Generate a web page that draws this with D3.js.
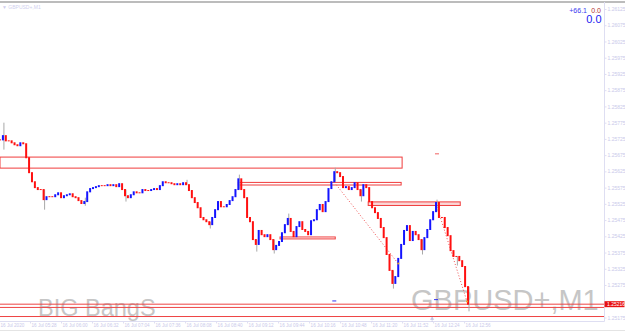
<!DOCTYPE html>
<html><head><meta charset="utf-8">
<script src="https://cdn.jsdelivr.net/npm/d3@7"></script>
<style>
html,body{margin:0;padding:0;background:#fff;}
svg{display:block;font-family:"Liberation Sans",Arial,sans-serif;}
</style></head>
<body><svg id="c" width="625" height="332"></svg>
<script>
// ---------------- data ----------------
const symbol = "GBPUSD+,M1";
const watermark = "BIG BangS";
const startTime = "2020-07-16 04:57";
const barStepMinutes = 3;
const closes = [
1.25722,1.25735,1.25719,1.25719,1.25713,1.25707,1.25704,1.25713,1.25710,1.25667,
1.25621,1.25593,1.25575,1.25569,1.25569,1.25538,1.25547,1.25547,1.25547,1.25553,
1.25559,1.25544,1.25550,1.25553,1.25556,1.25547,1.25544,1.25535,1.25526,1.25532,
1.25562,1.25572,1.25575,1.25578,1.25581,1.25581,1.25581,1.25584,1.25581,1.25584,
1.25578,1.25587,1.25569,1.25550,1.25544,1.25553,1.25562,1.25559,1.25559,1.25569,
1.25566,1.25566,1.25569,1.25572,1.25569,1.25581,1.25593,1.25590,1.25590,1.25587,
1.25584,1.25587,1.25584,1.25590,1.25584,1.25566,1.25544,1.25529,1.25513,1.25483,
1.25476,1.25470,1.25461,1.25483,1.25507,1.25532,1.25516,1.25516,1.25523,1.25535,
1.25547,1.25569,1.25602,1.25569,1.25544,1.25483,1.25470,1.25415,1.25400,1.25443,
1.25430,1.25424,1.25430,1.25415,1.25384,1.25397,1.25409,1.25436,1.25461,1.25480,
1.25440,1.25424,1.25455,1.25470,1.25446,1.25440,1.25430,1.25473,1.25476,1.25507,
1.25523,1.25501,1.25532,1.25572,1.25593,1.25624,1.25621,1.25609,1.25575,1.25578,
1.25569,1.25575,1.25590,1.25569,1.25550,1.25584,1.25575,1.25532,1.25513,1.25498,
1.25480,1.25452,1.25421,1.25369,1.25320,1.25280,1.25301,1.25357,1.25400,1.25443,
1.25458,1.25412,1.25440,1.25430,1.25415,1.25384,1.25421,1.25446,1.25476,1.25501,
1.25529,1.25483,1.25483,1.25452,1.25427,1.25381,1.25363,1.25363,1.25350,1.25332,
1.25270,1.25216];
// notable shadows (bar index, high, low)
const wickIndex = [1, 15, 29, 43, 64, 72, 82, 88, 94, 99, 115, 124, 135, 145, 150, 157, 161];
const wickHigh  = [1.25775,1.25569,1.25544,null,1.25599,null,1.25615,null,null,1.25495,1.25636,null,null,null,1.25538,null,null];
const wickLow   = [1.25692,1.25507,1.25519,1.25532,null,1.25449,null,1.25378,1.25372,null,null,1.25532,1.25264,1.25369,null,1.25335,1.25194];

const priceTicks = [1.26125,1.26075,1.26025,1.25975,1.25925,1.25875,1.25825,1.25775,1.25725,1.25675,
  1.25625,1.25575,1.25525,1.25475,1.25425,1.25375,1.25325,1.25275,1.25175];
const timeTicks = ["04:56","05:28","06:00","06:32","07:04","07:36","08:08","08:40","09:12","09:44",
  "10:16","10:48","11:20","11:52","12:24","12:56"];
const timeLabels = ["16 Jul 2020","16 Jul 05:28","16 Jul 06:00","16 Jul 06:32","16 Jul 07:04","16 Jul 07:36",
  "16 Jul 08:08","16 Jul 08:40","16 Jul 09:12","16 Jul 09:44","16 Jul 10:16","16 Jul 10:48","16 Jul 11:20",
  "16 Jul 11:52","16 Jul 12:24","16 Jul 12:56"];

// drawn objects (times and prices)
const zoneStart = ["04:57","09:03","09:46","11:17"];
const zoneEnd   = ["11:52","11:51","10:43","12:52"];
const zoneTop   = [1.25669,1.25591,1.25423,1.25531];
const zoneBottom= [1.25635,1.25583,1.25417,1.25520];
const hLines = [1.25216, 1.25206, 1.25178];
const trendStart = ["10:44","12:28"];
const trendStartPrice = [1.25584,1.25516];
const trendEnd = ["11:48","12:59"];
const trendEndPrice = [1.25341,1.25224];
const dashTime = ["12:28","10:42","12:27"];
const dashPrice = [1.25679,1.25226,1.25230];
const dashColor = ["#f06060","#3030f0","#3030f0"];
const lastPrice = 1.25216;
const infoTop = ["+66.1","0.0"];
const infoBig = "0.0";

// ---------------- drawing ----------------
const svg = d3.select("#c");
const W = 625, H = 332, axisX = 604, axisY = 321.5;
const parseT = d3.timeParse("%Y-%m-%d %H:%M");
const t0 = parseT(startTime);
const hm = s => parseT("2020-07-16 " + s);
const times = closes.map((c,i) => d3.timeMinute.offset(t0, i*barStepMinutes));

const x = d3.scaleTime().domain([hm("04:57"), hm("13:00")]).range([0, 468]);
const y = d3.scaleLinear().domain([1.25175, 1.26125]).range([317.5, 9]);

const axisCol = "#c9c9ea";

// window borders
svg.append("line").attr("x1",0).attr("x2",W).attr("y1",2).attr("y2",2).attr("stroke","#7a7a7a").attr("stroke-width",1.2);
svg.append("line").attr("x1",0).attr("x2",W).attr("y1",330.5).attr("y2",330.5).attr("stroke","#e4e4e4");

// watermarks
svg.append("text").attr("x",38).attr("y",316).attr("font-size",23.5).attr("fill","#c6c6c6").text(watermark);
svg.append("text").attr("x",411).attr("y",310).attr("font-size",29).attr("fill","#c6c6c6").text(symbol);

// top-left title
svg.append("text").attr("x",2).attr("y",8.5).attr("font-size",5).attr("fill","#cfcfee").text("\u25BC " + symbol);

// zones
const zg = svg.append("g");
zoneStart.forEach((s,i) => {
  zg.append("rect")
    .attr("x", x(hm(s))).attr("y", y(zoneTop[i]))
    .attr("width", x(hm(zoneEnd[i])) - x(hm(s)))
    .attr("height", y(zoneBottom[i]) - y(zoneTop[i]))
    .attr("fill", i===3 ? "#fbd6d6" : "none")
    .attr("stroke", "#f03c3c").attr("stroke-width", 1);
});
// horizontal lines
hLines.forEach(p => {
  svg.append("line").attr("x1",0).attr("x2",axisX).attr("y1",y(p)).attr("y2",y(p))
    .attr("stroke","#ee4444").attr("stroke-width",1);
});

// trend lines
trendStart.forEach((s,i) => {
  svg.append("line")
    .attr("x1", x(hm(s))).attr("y1", y(trendStartPrice[i]))
    .attr("x2", x(hm(trendEnd[i]))).attr("y2", y(trendEndPrice[i]))
    .attr("stroke","#f05050").attr("stroke-width",1).attr("stroke-dasharray","1,2");
});

// wicks
const wg = svg.append("g");
wickIndex.forEach((bi,k) => {
  const c = closes[bi], o = bi>0 ? closes[bi-1] : c;
  const hi = wickHigh[k] != null ? wickHigh[k] : Math.max(o,c);
  const lo = wickLow[k] != null ? wickLow[k] : Math.min(o,c);
  wg.append("line").attr("x1", x(times[bi])+1).attr("x2", x(times[bi])+1)
    .attr("y1", y(hi)).attr("y2", y(lo)).attr("stroke","#a8a8a8").attr("stroke-width",1);
});

// candle bodies
const bg = svg.append("g");
closes.forEach((c,i) => {
  const o = i>0 ? closes[i-1] : c;
  const top = y(Math.max(o,c)), bot = y(Math.min(o,c));
  bg.append("rect")
    .attr("x", x(times[i]) - 1).attr("width", 2)
    .attr("y", top - 0.5).attr("height", Math.max(1, bot - top + 1))
    .attr("fill", c > o ? "#1414ff" : "#ff1010");
});

// small marks
dashTime.forEach((t,i) => {
  svg.append("line").attr("x1", x(hm(t))-2).attr("x2", x(hm(t))+2)
    .attr("y1", y(dashPrice[i])).attr("y2", y(dashPrice[i]))
    .attr("stroke", dashColor[i]).attr("stroke-width", 1);
});
[[trendEnd[0],trendEndPrice[0]],[trendEnd[1],trendEndPrice[1]]].forEach(d => {
  svg.append("circle").attr("cx", x(hm(d[0]))).attr("cy", y(d[1])).attr("r",1).attr("fill","#f0a020");
});

// right axis
svg.append("line").attr("x1",axisX+0.5).attr("x2",axisX+0.5).attr("y1",2).attr("y2",axisY)
  .attr("stroke","#dedef2");
const ra = svg.append("g").attr("transform",`translate(${axisX+0.5},0)`)
  .call(d3.axisRight(y).tickValues(priceTicks).tickSize(2).tickPadding(1).tickFormat(d => d.toFixed(5)));
ra.select(".domain").remove();
ra.selectAll("line").attr("stroke","#dedef2");
ra.selectAll("text").attr("fill",axisCol).attr("font-size",5).attr("font-family","Liberation Sans, Arial, sans-serif");

// last price label
svg.append("rect").attr("x",axisX+0.5).attr("y",y(lastPrice)-3).attr("width",20).attr("height",6).attr("fill","#e81010");
svg.append("text").attr("x",axisX+3).attr("y",y(lastPrice)+1.8).attr("font-size",5).attr("fill","#fff").text(lastPrice.toFixed(5));

// bottom axis
svg.append("line").attr("x1",0).attr("x2",axisX+0.5).attr("y1",axisY).attr("y2",axisY).attr("stroke","#dedef2");
const ba = svg.append("g").attr("transform",`translate(0,${axisY})`)
  .call(d3.axisBottom(x).tickValues(timeTicks.map(hm)).tickSize(2).tickPadding(0)
    .tickFormat((d,i) => timeLabels[i]));
ba.select(".domain").remove();
ba.selectAll("line").attr("stroke","#dedef2");
ba.selectAll("text").attr("fill",axisCol).attr("font-size",4.6).attr("text-anchor","start")
  .attr("dx",1).attr("font-family","Liberation Sans, Arial, sans-serif");

// shift marker
svg.append("path").attr("d", `M${x(hm("12:23"))},317 l-1.5,2.5 h3 z M${x(hm("12:23"))},319 v3`)
  .attr("fill","#c0c0e0").attr("stroke","#c0c0e0").attr("stroke-width",0.6);

// top right info
svg.append("text").attr("x",587).attr("y",13).attr("font-size",7).attr("text-anchor","end").attr("fill","#3a3af0").text(infoTop[0]);
svg.append("text").attr("x",601).attr("y",13).attr("font-size",7).attr("text-anchor","end").attr("fill","#b03030").text(infoTop[1]);
svg.append("text").attr("x",601.5).attr("y",22.5).attr("font-size",11).attr("text-anchor","end").attr("fill","#2020f0").text(infoBig);
</script></body></html>
